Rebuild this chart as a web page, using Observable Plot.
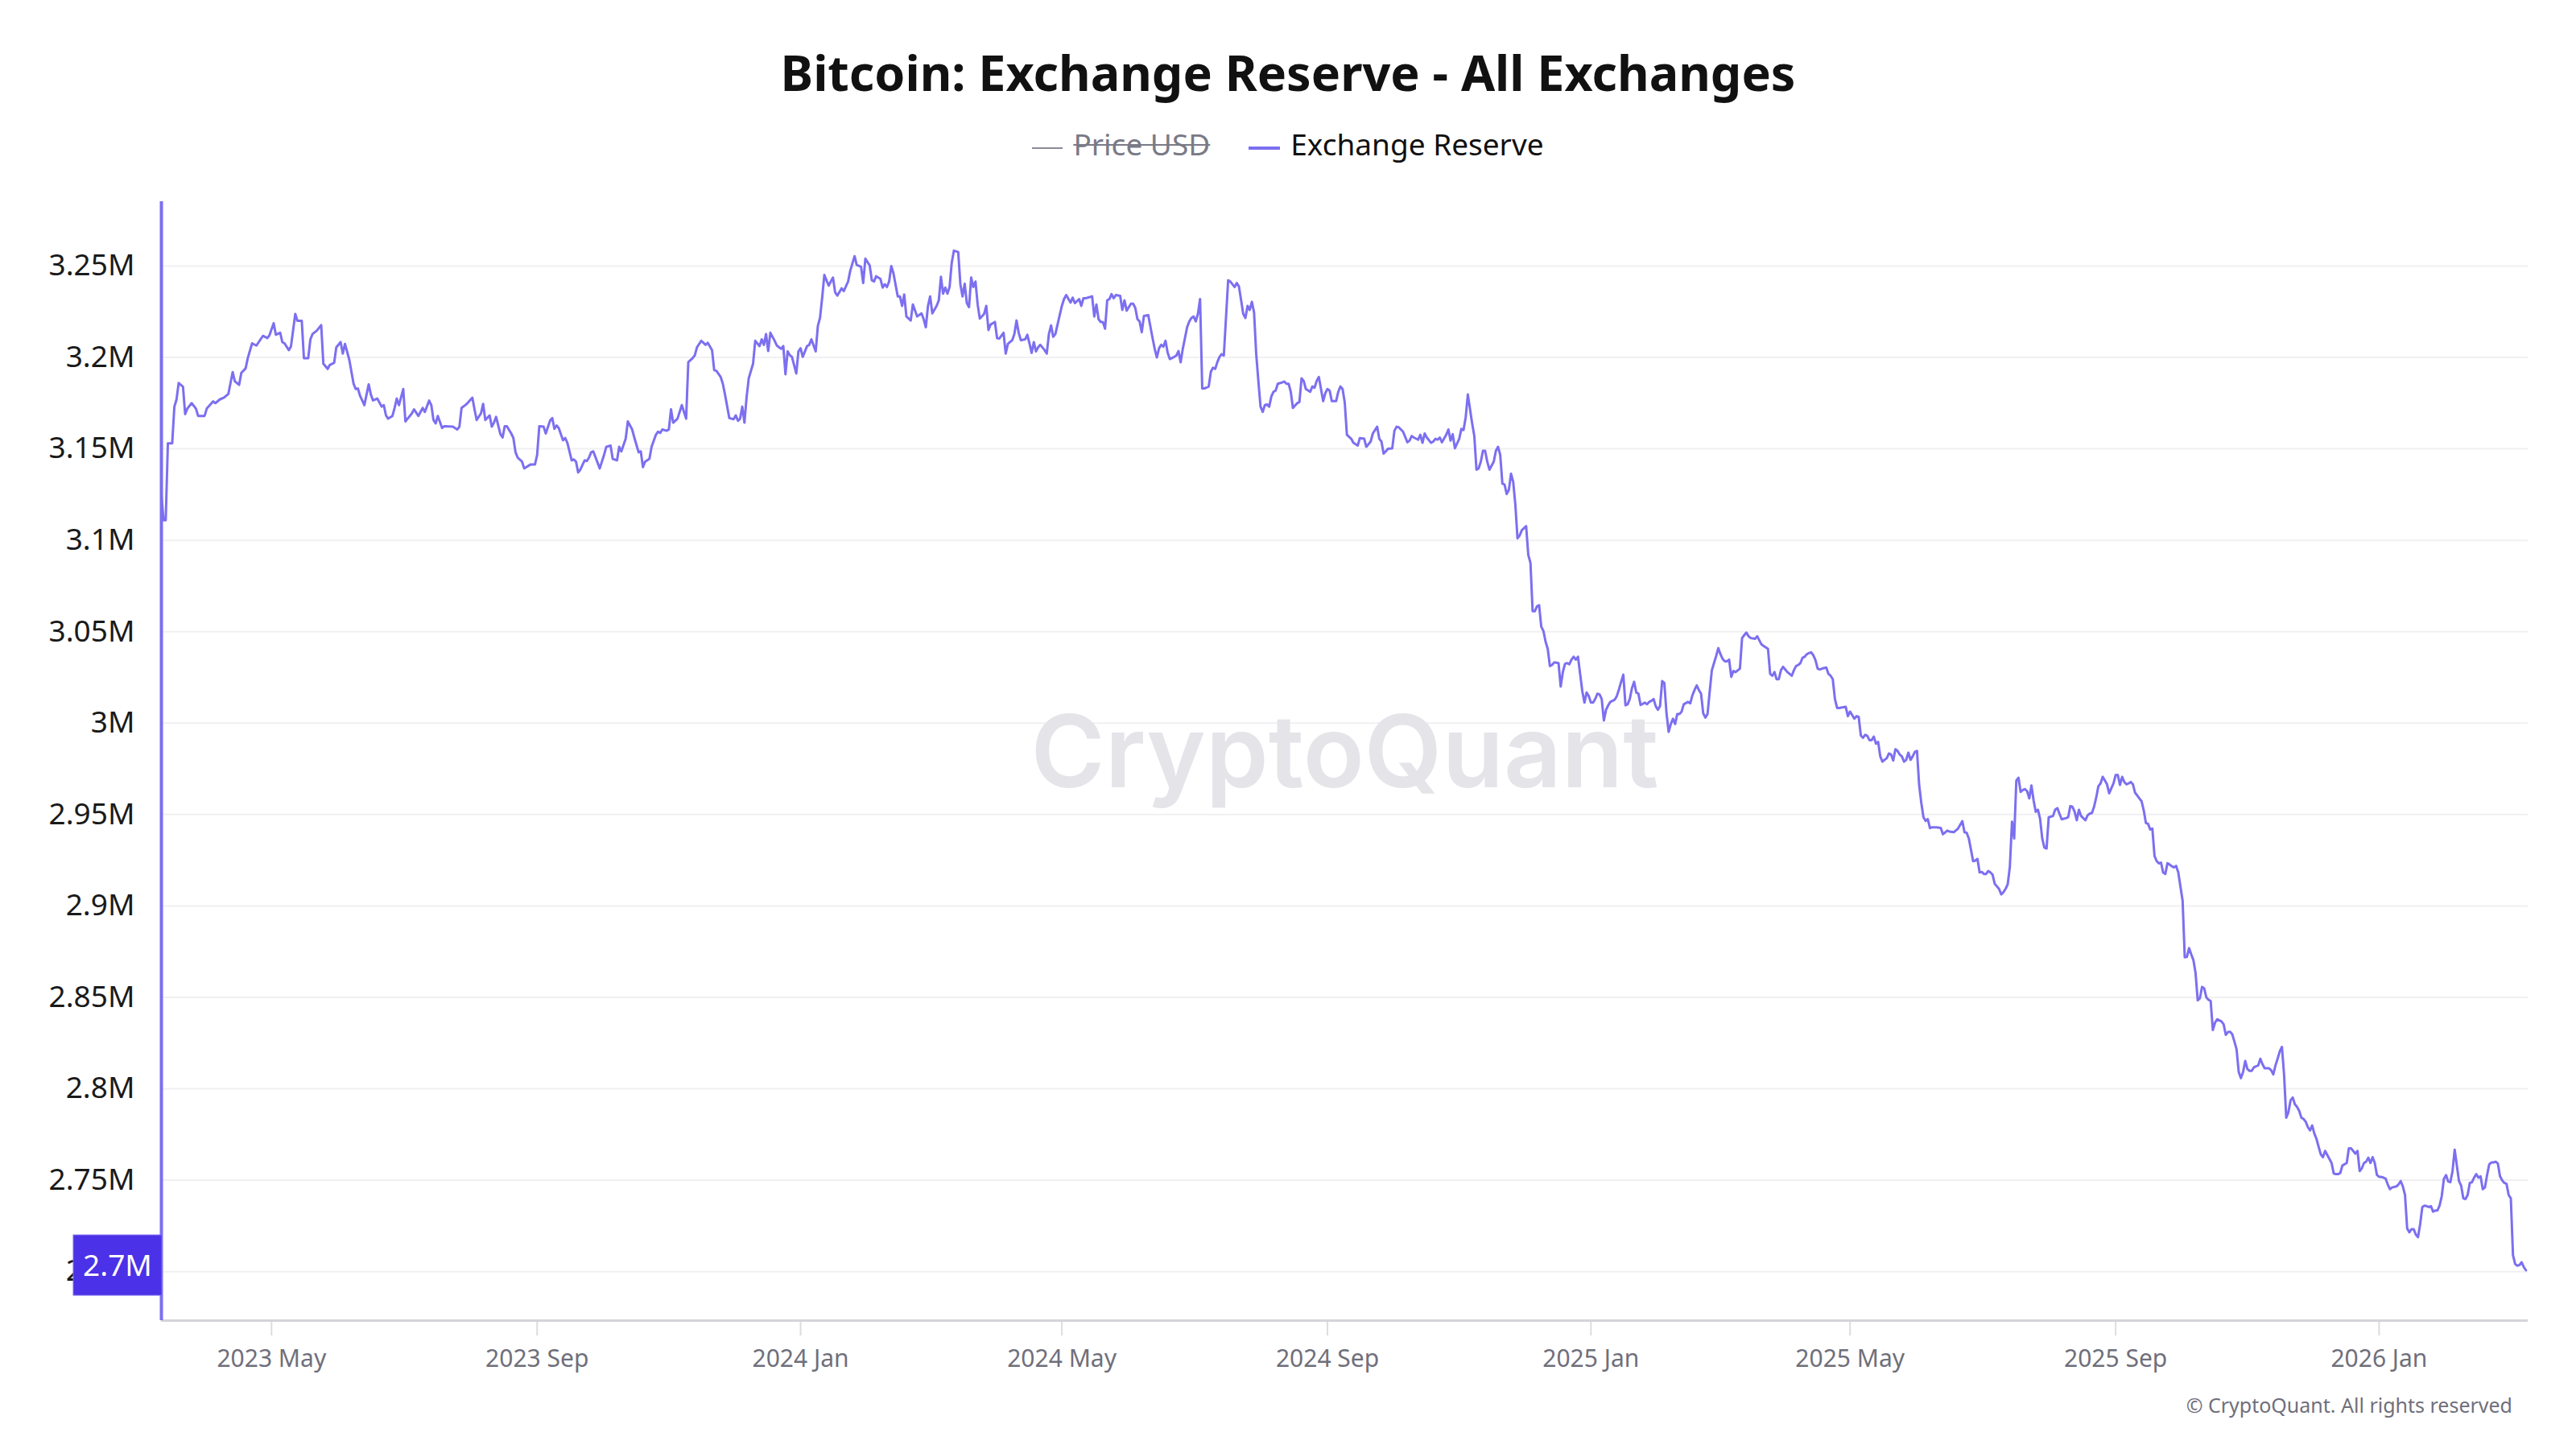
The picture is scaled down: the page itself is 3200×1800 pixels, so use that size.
<!DOCTYPE html>
<html>
<head>
<meta charset="utf-8">
<script src="https://cdn.jsdelivr.net/npm/d3@7"></script>
<script src="https://cdn.jsdelivr.net/npm/@observablehq/plot@0.6"></script>
<style>
  html, body { margin: 0; padding: 0; background: #fff; }
  #wrap { position: relative; width: 3200px; height: 1800px; font-family: 'Noto Sans', sans-serif; overflow: hidden; }
  #title { position: absolute; left: 0; top: 59px; width: 3200px; text-align: center; font-size: 61px; line-height: 1; font-weight: 700; color: #111; }
  #legend { position: absolute; left: 0; top: 160px; width: 3200px; display: flex; justify-content: center; align-items: center; font-size: 37px; line-height: 1; }
  #legend .sw { display: inline-block; position: relative; top: 5px; margin-right: 13px; }
  #chart { position: absolute; left: 0; top: 230px; width: 3200px; }
  #copy { position: absolute; right: 79px; top: 1733px; font-size: 25px; line-height: 1; color: #6f6f7b; }
</style>
</head>
<body>
<div id="wrap">
  <div id="title"></div>
  <div id="legend"></div>
  <div id="chart"></div>
  <div id="copy"></div>
</div>
<script>
const title = "Bitcoin: Exchange Reserve - All Exchanges";
const legendLabels = ["Price USD", "Exchange Reserve"];
const copyright = "© CryptoQuant. All rights reserved";
const watermark = "CryptoQuant";

const yTicks = [2.7, 2.75, 2.8, 2.85, 2.9, 2.95, 3.0, 3.05, 3.1, 3.15, 3.2, 3.25];
const yTickLabels = ["2.7M", "2.75M", "2.8M", "2.85M", "2.9M", "2.95M", "3M", "3.05M", "3.1M", "3.15M", "3.2M", "3.25M"];
const xTicks = ["2023-05-01", "2023-09-01", "2024-01-01", "2024-05-01", "2024-09-01", "2025-01-01", "2025-05-01", "2025-09-01", "2026-01-01"];
const xTickLabels = ["2023 May", "2023 Sep", "2024 Jan", "2024 May", "2024 Sep", "2025 Jan", "2025 May", "2025 Sep", "2026 Jan"];

// Exchange reserve (millions of BTC)
const dates = [
"2023-03-11","2023-03-12","2023-03-13","2023-03-14","2023-03-16","2023-03-17","2023-03-18","2023-03-19","2023-03-21","2023-03-22","2023-03-23","2023-03-25","2023-03-27","2023-03-28","2023-03-31",
"2023-04-01","2023-04-04","2023-04-05","2023-04-07","2023-04-09","2023-04-11","2023-04-13","2023-04-14","2023-04-16","2023-04-17","2023-04-19","2023-04-20","2023-04-22","2023-04-24","2023-04-27","2023-04-29","2023-04-30",
"2023-05-02","2023-05-03","2023-05-05","2023-05-06","2023-05-07","2023-05-09","2023-05-10","2023-05-12","2023-05-13","2023-05-15","2023-05-16","2023-05-18","2023-05-19","2023-05-20","2023-05-22","2023-05-24","2023-05-25","2023-05-27","2023-05-28","2023-05-30","2023-05-31",
"2023-06-02","2023-06-03","2023-06-04","2023-06-06","2023-06-08","2023-06-09","2023-06-10","2023-06-11","2023-06-13","2023-06-14","2023-06-15","2023-06-16","2023-06-17","2023-06-19","2023-06-21","2023-06-22","2023-06-23","2023-06-24","2023-06-26","2023-06-27","2023-06-28","2023-06-29",
"2023-07-01","2023-07-02","2023-07-03","2023-07-05","2023-07-06","2023-07-08","2023-07-10","2023-07-11","2023-07-13","2023-07-14","2023-07-15","2023-07-16","2023-07-17","2023-07-19","2023-07-20","2023-07-24","2023-07-26","2023-07-27","2023-07-28","2023-07-30","2023-07-31",
"2023-08-02","2023-08-03","2023-08-04","2023-08-06","2023-08-07","2023-08-08","2023-08-10","2023-08-11","2023-08-12","2023-08-13","2023-08-15","2023-08-16","2023-08-17","2023-08-18","2023-08-20","2023-08-21","2023-08-22","2023-08-23","2023-08-25","2023-08-26","2023-08-27","2023-08-29","2023-08-31",
"2023-09-01","2023-09-02","2023-09-04","2023-09-05","2023-09-07","2023-09-08","2023-09-09","2023-09-10","2023-09-11","2023-09-13","2023-09-14","2023-09-15","2023-09-17","2023-09-18","2023-09-19","2023-09-20","2023-09-21","2023-09-23","2023-09-24","2023-09-25","2023-09-26","2023-09-27","2023-09-30",
"2023-10-02","2023-10-03","2023-10-05","2023-10-06","2023-10-08","2023-10-09","2023-10-10","2023-10-12","2023-10-13","2023-10-15","2023-10-16","2023-10-18","2023-10-19","2023-10-20","2023-10-21","2023-10-23","2023-10-24","2023-10-26","2023-10-27","2023-10-28","2023-10-29","2023-10-31",
"2023-11-01","2023-11-02","2023-11-03","2023-11-05","2023-11-07","2023-11-09","2023-11-10","2023-11-12","2023-11-13","2023-11-14","2023-11-16","2023-11-18","2023-11-19","2023-11-21","2023-11-22","2023-11-23","2023-11-25","2023-11-26","2023-11-27","2023-11-29",
"2023-12-01","2023-12-02","2023-12-03","2023-12-04","2023-12-05","2023-12-06","2023-12-07","2023-12-08","2023-12-10","2023-12-11","2023-12-13","2023-12-14","2023-12-15","2023-12-16","2023-12-17","2023-12-18","2023-12-20","2023-12-21","2023-12-23","2023-12-24","2023-12-25","2023-12-26","2023-12-27","2023-12-28","2023-12-30","2023-12-31",
"2024-01-01","2024-01-02","2024-01-04","2024-01-05","2024-01-06","2024-01-08","2024-01-09","2024-01-10","2024-01-11","2024-01-12","2024-01-14","2024-01-16","2024-01-17","2024-01-18","2024-01-20","2024-01-21","2024-01-23","2024-01-24","2024-01-26","2024-01-27","2024-01-29","2024-01-30","2024-01-31",
"2024-02-02","2024-02-03","2024-02-04","2024-02-05","2024-02-07","2024-02-08","2024-02-09","2024-02-10","2024-02-11","2024-02-12","2024-02-13","2024-02-15","2024-02-16","2024-02-17","2024-02-18","2024-02-19","2024-02-21","2024-02-22","2024-02-24","2024-02-26","2024-02-27","2024-02-28","2024-02-29",
"2024-03-01","2024-03-02","2024-03-04","2024-03-05","2024-03-06","2024-03-07","2024-03-08","2024-03-09","2024-03-10","2024-03-11","2024-03-12","2024-03-14","2024-03-15","2024-03-16","2024-03-17","2024-03-18","2024-03-19","2024-03-20","2024-03-21","2024-03-22","2024-03-23","2024-03-24","2024-03-26","2024-03-27","2024-03-28","2024-03-29","2024-03-31",
"2024-04-01","2024-04-02","2024-04-04","2024-04-05","2024-04-06","2024-04-08","2024-04-09","2024-04-10","2024-04-11","2024-04-12","2024-04-14","2024-04-15","2024-04-16","2024-04-17","2024-04-18","2024-04-19","2024-04-20","2024-04-21","2024-04-23","2024-04-24","2024-04-25","2024-04-26","2024-04-27","2024-04-28","2024-04-29",
"2024-05-01","2024-05-02","2024-05-03","2024-05-05","2024-05-06","2024-05-07","2024-05-09","2024-05-10","2024-05-11","2024-05-12","2024-05-13","2024-05-15","2024-05-16","2024-05-17","2024-05-18","2024-05-19","2024-05-20","2024-05-21","2024-05-22","2024-05-23","2024-05-24","2024-05-25","2024-05-26","2024-05-28","2024-05-29","2024-05-30","2024-05-31",
"2024-06-02","2024-06-03","2024-06-04","2024-06-05","2024-06-06","2024-06-07","2024-06-08","2024-06-10","2024-06-12","2024-06-13","2024-06-14","2024-06-15","2024-06-16","2024-06-17","2024-06-18","2024-06-19","2024-06-20","2024-06-22","2024-06-23","2024-06-24","2024-06-25","2024-06-26","2024-06-28","2024-06-29","2024-06-30",
"2024-07-01","2024-07-02","2024-07-03","2024-07-04","2024-07-05","2024-07-06","2024-07-08","2024-07-09","2024-07-10","2024-07-11","2024-07-12","2024-07-13","2024-07-14","2024-07-15","2024-07-17","2024-07-18","2024-07-19","2024-07-20","2024-07-21","2024-07-22","2024-07-24","2024-07-25","2024-07-26","2024-07-27","2024-07-28","2024-07-29","2024-07-30","2024-07-31",
"2024-08-01","2024-08-02","2024-08-03","2024-08-04","2024-08-05","2024-08-06","2024-08-07","2024-08-08","2024-08-09","2024-08-11","2024-08-12","2024-08-13","2024-08-14","2024-08-15","2024-08-16","2024-08-18","2024-08-19","2024-08-20","2024-08-21","2024-08-22","2024-08-24","2024-08-25","2024-08-26","2024-08-27","2024-08-28","2024-08-30","2024-08-31",
"2024-09-01","2024-09-02","2024-09-03","2024-09-05","2024-09-06","2024-09-07","2024-09-08","2024-09-09","2024-09-10","2024-09-12","2024-09-13","2024-09-15","2024-09-16","2024-09-18","2024-09-19","2024-09-21","2024-09-22","2024-09-24","2024-09-25","2024-09-26","2024-09-27","2024-09-28","2024-09-29",
"2024-10-01","2024-10-02","2024-10-03","2024-10-04","2024-10-06","2024-10-07","2024-10-08","2024-10-09","2024-10-10","2024-10-11","2024-10-13","2024-10-14","2024-10-15","2024-10-16","2024-10-17","2024-10-19","2024-10-20","2024-10-21","2024-10-22","2024-10-23","2024-10-24","2024-10-26","2024-10-27","2024-10-28","2024-10-29","2024-10-30",
"2024-11-01","2024-11-02","2024-11-03","2024-11-04","2024-11-05","2024-11-07","2024-11-08","2024-11-09","2024-11-10","2024-11-11","2024-11-12","2024-11-13","2024-11-14","2024-11-15","2024-11-17","2024-11-18","2024-11-19","2024-11-20","2024-11-21","2024-11-22","2024-11-23","2024-11-24","2024-11-25","2024-11-26","2024-11-27","2024-11-28","2024-11-29","2024-11-30",
"2024-12-02","2024-12-03","2024-12-04","2024-12-05","2024-12-06","2024-12-07","2024-12-08","2024-12-09","2024-12-10","2024-12-11","2024-12-12","2024-12-13","2024-12-14","2024-12-15","2024-12-17","2024-12-18","2024-12-19","2024-12-20","2024-12-21","2024-12-22","2024-12-23","2024-12-24","2024-12-25","2024-12-26","2024-12-27","2024-12-28","2024-12-29","2024-12-30","2024-12-31",
"2025-01-01","2025-01-02","2025-01-03","2025-01-04","2025-01-05","2025-01-06","2025-01-07","2025-01-08","2025-01-09","2025-01-10","2025-01-11","2025-01-12","2025-01-13","2025-01-14","2025-01-15","2025-01-16","2025-01-17","2025-01-18","2025-01-19","2025-01-20","2025-01-21","2025-01-22","2025-01-23","2025-01-24","2025-01-26","2025-01-27","2025-01-28","2025-01-29","2025-01-30","2025-01-31",
"2025-02-01","2025-02-02","2025-02-03","2025-02-04","2025-02-05","2025-02-06","2025-02-07","2025-02-08","2025-02-09","2025-02-10","2025-02-11","2025-02-12","2025-02-13","2025-02-15","2025-02-16","2025-02-17","2025-02-18","2025-02-19","2025-02-20","2025-02-21","2025-02-22","2025-02-23","2025-02-24","2025-02-25","2025-02-26","2025-02-27","2025-02-28",
"2025-03-01","2025-03-02","2025-03-03","2025-03-04","2025-03-05","2025-03-06","2025-03-07","2025-03-08","2025-03-09","2025-03-11","2025-03-12","2025-03-13","2025-03-14","2025-03-15","2025-03-16","2025-03-18","2025-03-19","2025-03-21","2025-03-22","2025-03-24","2025-03-25","2025-03-26","2025-03-27","2025-03-28","2025-03-29","2025-03-30","2025-03-31",
"2025-04-01","2025-04-02","2025-04-03","2025-04-04","2025-04-05","2025-04-06","2025-04-07","2025-04-08","2025-04-09","2025-04-10","2025-04-11","2025-04-12","2025-04-13","2025-04-14","2025-04-15","2025-04-16","2025-04-17","2025-04-18","2025-04-20","2025-04-21","2025-04-22","2025-04-23","2025-04-24","2025-04-25","2025-04-26","2025-04-28","2025-04-29","2025-04-30",
"2025-05-01","2025-05-02","2025-05-03","2025-05-04","2025-05-05","2025-05-06","2025-05-07","2025-05-08","2025-05-09","2025-05-10","2025-05-11","2025-05-12","2025-05-13","2025-05-14","2025-05-15","2025-05-16","2025-05-17","2025-05-18","2025-05-19","2025-05-20","2025-05-21","2025-05-22","2025-05-23","2025-05-24","2025-05-25","2025-05-26","2025-05-27","2025-05-28","2025-05-29","2025-05-30","2025-05-31",
"2025-06-01","2025-06-02","2025-06-03","2025-06-04","2025-06-05","2025-06-06","2025-06-07","2025-06-08","2025-06-10","2025-06-12","2025-06-13","2025-06-15","2025-06-16","2025-06-18","2025-06-20","2025-06-22","2025-06-23","2025-06-24","2025-06-25","2025-06-26","2025-06-27","2025-06-28","2025-06-29","2025-06-30",
"2025-07-01","2025-07-02","2025-07-03","2025-07-04","2025-07-05","2025-07-06","2025-07-07","2025-07-09","2025-07-10","2025-07-11","2025-07-12","2025-07-13","2025-07-14","2025-07-15","2025-07-16","2025-07-17","2025-07-18","2025-07-19","2025-07-20","2025-07-21","2025-07-22","2025-07-23","2025-07-24","2025-07-25","2025-07-26","2025-07-27","2025-07-28","2025-07-29","2025-07-30","2025-07-31",
"2025-08-01","2025-08-03","2025-08-04","2025-08-05","2025-08-06","2025-08-07","2025-08-08","2025-08-09","2025-08-10","2025-08-11","2025-08-12","2025-08-13","2025-08-14","2025-08-15","2025-08-16","2025-08-17","2025-08-18","2025-08-19","2025-08-20","2025-08-21","2025-08-22","2025-08-23","2025-08-24","2025-08-25","2025-08-26","2025-08-27","2025-08-28","2025-08-29","2025-08-31",
"2025-09-01","2025-09-02","2025-09-03","2025-09-04","2025-09-05","2025-09-06","2025-09-07","2025-09-08","2025-09-09","2025-09-10","2025-09-11","2025-09-12","2025-09-13","2025-09-14","2025-09-15","2025-09-16","2025-09-17","2025-09-18","2025-09-19","2025-09-20","2025-09-21","2025-09-22","2025-09-23","2025-09-24","2025-09-25","2025-09-26","2025-09-27","2025-09-28","2025-09-29","2025-09-30",
"2025-10-02","2025-10-03","2025-10-04","2025-10-05","2025-10-06","2025-10-07","2025-10-08","2025-10-09","2025-10-10","2025-10-11","2025-10-12","2025-10-13","2025-10-14","2025-10-15","2025-10-16","2025-10-17","2025-10-18","2025-10-20","2025-10-21","2025-10-22","2025-10-23","2025-10-24","2025-10-25","2025-10-26","2025-10-27","2025-10-28","2025-10-29","2025-10-30","2025-10-31",
"2025-11-01","2025-11-02","2025-11-03","2025-11-04","2025-11-05","2025-11-06","2025-11-07","2025-11-08","2025-11-09","2025-11-10","2025-11-11","2025-11-12","2025-11-13","2025-11-14","2025-11-15","2025-11-16","2025-11-17","2025-11-18","2025-11-19","2025-11-20","2025-11-21","2025-11-22","2025-11-23","2025-11-24","2025-11-25","2025-11-26","2025-11-27","2025-11-28","2025-11-29","2025-11-30",
"2025-12-01","2025-12-02","2025-12-03","2025-12-04","2025-12-05","2025-12-06","2025-12-07","2025-12-08","2025-12-09","2025-12-10","2025-12-11","2025-12-12","2025-12-13","2025-12-14","2025-12-15","2025-12-16","2025-12-17","2025-12-18","2025-12-19","2025-12-20","2025-12-21","2025-12-22","2025-12-23","2025-12-24","2025-12-25","2025-12-26","2025-12-27","2025-12-28","2025-12-29","2025-12-30","2025-12-31",
"2026-01-01","2026-01-02","2026-01-03","2026-01-04","2026-01-05","2026-01-06","2026-01-07","2026-01-09","2026-01-10","2026-01-11","2026-01-12","2026-01-13","2026-01-14","2026-01-15","2026-01-16","2026-01-17","2026-01-18","2026-01-19","2026-01-20","2026-01-21","2026-01-22","2026-01-23","2026-01-24","2026-01-25","2026-01-26","2026-01-27","2026-01-28","2026-01-29","2026-01-30","2026-01-31",
"2026-02-01","2026-02-02","2026-02-03","2026-02-04","2026-02-05","2026-02-06","2026-02-07","2026-02-08","2026-02-09","2026-02-10","2026-02-11","2026-02-12","2026-02-13","2026-02-14","2026-02-15","2026-02-16","2026-02-17","2026-02-18","2026-02-19","2026-02-20","2026-02-21","2026-02-22","2026-02-23","2026-02-24","2026-02-25","2026-02-26","2026-02-27","2026-02-28",
"2026-03-01","2026-03-02","2026-03-03","2026-03-04","2026-03-05","2026-03-06","2026-03-07","2026-03-08","2026-03-09","2026-03-10"
];
const reserve = [
3.125,3.111,3.111,3.153,3.153,3.173,3.177,3.186,3.184,3.169,3.172,3.175,3.172,3.168,3.168,
3.172,3.176,3.175,3.177,3.178,3.180,3.192,3.187,3.185,3.1915,3.194,3.1996,3.2077,3.2065,3.2118,3.2106,3.212,
3.2187,3.2124,3.2135,3.2084,3.2077,3.204,3.206,3.2238,3.220,3.220,3.1996,3.1996,3.2099,3.2128,3.2147,3.2177,3.1966,3.1937,3.1959,3.1971,3.2055,
3.2084,3.2021,3.2074,3.1988,3.1856,3.1827,3.183,3.179,3.1739,3.1797,3.1853,3.1797,3.1765,3.1775,3.1731,3.1739,3.1683,3.1665,3.168,3.1724,3.1775,3.1739,
3.1827,3.165,3.1665,3.1694,3.1716,3.168,3.1724,3.1702,3.1764,3.1739,3.1658,3.1639,3.168,3.1614,3.1624,3.1621,3.1606,3.1621,3.1724,3.1742,3.1753,
3.178,3.1716,3.1658,3.1694,3.1746,3.1658,3.1683,3.1621,3.1643,3.1675,3.158,3.1562,3.1624,3.1624,3.1584,3.1559,3.1481,3.1452,3.143,3.1393,3.14,3.1415,3.1415,
3.1467,3.1624,3.1621,3.1584,3.1655,3.1668,3.1609,3.1628,3.1614,3.1547,3.1559,3.1533,3.1437,3.1442,3.143,3.1371,3.1386,3.1437,3.1433,3.1452,3.1481,3.1486,3.1393,
3.1467,3.1511,3.1518,3.1445,3.1437,3.1511,3.1486,3.1555,3.165,3.1606,3.1562,3.1481,3.1486,3.14,3.143,3.1445,3.1511,3.1577,3.1594,3.1587,3.1606,3.1599,
3.1606,3.1716,3.1643,3.1665,3.1739,3.1665,3.1974,3.1996,3.2011,3.2055,3.2091,3.2069,3.208,3.204,3.193,3.1927,3.1893,3.1856,3.1797,3.1668,
3.1662,3.1683,3.1653,3.1665,3.1731,3.1643,3.1783,3.1886,3.1966,3.2091,3.2062,3.2099,3.2069,3.2128,3.2035,3.2135,3.2091,3.2065,3.2047,3.2062,3.1908,3.2033,3.2013,3.2003,3.1912,3.2033,
3.205,3.2003,3.2062,3.2069,3.2099,3.2033,3.2172,3.2216,3.2327,3.2451,3.2393,3.2437,3.2356,3.2338,3.2378,3.2363,3.2415,3.2474,3.2554,3.2506,3.2496,3.2407,3.254,
3.2503,3.2422,3.2415,3.2444,3.2429,3.2382,3.24,3.2385,3.2415,3.25,3.246,3.2334,3.2334,3.2282,3.2344,3.2224,3.2202,3.229,3.2224,3.2241,3.2209,3.2165,3.2282,
3.2334,3.2241,3.2282,3.2312,3.2441,3.2349,3.2382,3.2349,3.2385,3.2518,3.2584,3.2576,3.24,3.2334,3.2403,3.2297,3.2275,3.2437,3.2385,3.2415,3.229,3.2212,3.2238,3.2282,3.215,3.218,3.2194,
3.2106,3.2103,3.2135,3.2021,3.2074,3.2094,3.2128,3.2202,3.2135,3.2094,3.2099,3.2124,3.2077,3.2025,3.2084,3.2033,3.2055,3.2069,3.204,3.2021,3.2128,3.2175,3.2113,3.2128,3.218,
3.2282,3.2319,3.2341,3.23,3.2327,3.2297,3.2319,3.2282,3.2324,3.2324,3.2327,3.2334,3.2224,3.229,3.2209,3.2194,3.2194,3.2157,3.2312,3.2319,3.2346,3.2324,3.2341,3.2337,3.226,3.2312,3.2256,
3.2294,3.2294,3.2271,3.2209,3.2197,3.2138,3.2227,3.2231,3.2106,3.2047,3.2,3.205,3.2069,3.2059,3.2091,3.2025,3.1991,3.2003,3.201,3.2035,3.1974,3.2047,3.2165,3.2197,3.2216,
3.2224,3.2197,3.2238,3.2319,3.183,3.183,3.1841,3.1922,3.1944,3.1937,3.1974,3.2003,3.2018,3.201,3.2422,3.2415,3.24,3.2385,3.2407,3.2388,3.2238,3.2216,3.2282,3.226,3.2304,3.2246,3.2018,3.1871,
3.1731,3.1702,3.1739,3.1743,3.1731,3.1786,3.1812,3.1819,3.1856,3.1863,3.1868,3.1856,3.1856,3.1812,3.1724,3.175,3.1756,3.1886,3.1871,3.1827,3.1812,3.1841,3.1834,3.1871,3.1893,3.1761,3.1805,
3.1827,3.1819,3.1761,3.1761,3.1812,3.1841,3.1827,3.1753,3.1577,3.1555,3.1533,3.1518,3.1559,3.1555,3.1511,3.154,3.1584,3.1621,3.1555,3.154,3.1474,3.1486,3.15,
3.1503,3.1599,3.1621,3.1618,3.1594,3.1565,3.1536,3.1545,3.157,3.1562,3.155,3.1577,3.1533,3.1584,3.1562,3.1533,3.154,3.1555,3.155,3.1562,3.1536,3.1577,3.1606,3.1545,3.158,3.1503,
3.1555,3.1609,3.1603,3.1672,3.1797,3.1639,3.157,3.1386,3.1393,3.143,3.1489,3.1489,3.143,3.1386,3.143,3.1489,3.1511,3.1467,3.1309,3.1305,3.1253,3.1276,3.1364,3.132,3.1195,3.1011,3.1026,3.1055,
3.1077,3.092,3.0877,3.0612,3.0612,3.0638,3.0645,3.0528,3.0504,3.0446,3.0406,3.0312,3.0318,3.0332,3.0328,3.02,3.0279,3.0324,3.0328,3.0322,3.0347,3.0363,3.0347,3.0363,3.0269,3.0175,3.0112,3.0167,3.0148,
3.0112,3.0112,3.0132,3.0161,3.0157,3.0132,3.0014,3.0073,3.0097,3.0116,3.0122,3.0128,3.0148,3.0185,3.0226,3.0265,3.0097,3.0103,3.0132,3.0191,3.0226,3.0167,3.0161,3.0099,3.0112,3.0103,3.0116,3.0122,3.0132,3.0093,
3.0073,3.0093,3.023,3.022,3.0054,2.9952,2.9995,3.0024,2.9995,3.005,3.005,3.0063,3.0103,3.0116,3.0108,3.0152,3.0181,3.0206,3.0181,3.0161,3.0054,3.003,3.005,3.0171,3.0289,3.0328,3.0367,
3.041,3.0377,3.0351,3.0338,3.0338,3.0347,3.0253,3.0285,3.0279,3.0298,3.0465,3.0481,3.0495,3.0475,3.0465,3.0461,3.0475,3.043,3.0422,3.0406,3.0269,3.0259,3.0279,3.024,3.024,3.0289,3.0308,
3.0293,3.0279,3.0269,3.0259,3.0289,3.0312,3.0318,3.0328,3.0357,3.0363,3.0377,3.0383,3.0387,3.0371,3.0344,3.0298,3.0293,3.0298,3.0304,3.0269,3.0259,3.024,3.0132,3.0083,3.0083,3.0087,3.0089,3.0038,
3.0063,3.0044,3.0024,3.0038,3.0034,2.9932,2.992,2.9936,2.993,2.9907,2.9907,2.9926,2.9887,2.9897,2.9818,2.9789,2.9799,2.9808,2.9834,2.9828,2.9795,2.9857,2.9848,2.9828,2.9818,2.9789,2.9799,2.9838,2.9799,2.9818,2.9842,
2.9848,2.9662,2.9563,2.9485,2.9465,2.9475,2.9426,2.943,2.943,2.9427,2.9392,2.9412,2.9407,2.9403,2.9423,2.9464,2.9403,2.94,2.9369,2.9307,2.9245,2.9248,2.9257,2.9183,
2.9186,2.9175,2.9175,2.9191,2.9183,2.9171,2.9121,2.9093,2.9063,2.9075,2.9093,2.9118,2.9214,2.9461,2.9369,2.9686,2.9701,2.9624,2.9634,2.9639,2.9628,2.9588,2.9659,2.9577,2.9515,2.9526,2.9477,2.9369,2.9319,2.9314,
2.9485,2.9492,2.9527,2.9535,2.9504,2.9474,2.9477,2.948,2.9485,2.9546,2.9542,2.9515,2.9469,2.9526,2.9492,2.948,2.9469,2.9495,2.9505,2.9508,2.9542,2.9593,2.9655,2.967,2.9706,2.9686,2.9665,2.9616,2.967,
2.9716,2.9716,2.9662,2.9706,2.9678,2.9665,2.967,2.9678,2.9665,2.9619,2.9604,2.9588,2.9573,2.9523,2.9454,2.9449,2.9418,2.9423,2.9273,2.9245,2.9233,2.9237,2.9183,2.9175,2.9234,2.9226,2.9217,2.9211,2.9219,2.9183,
2.9029,2.8719,2.8722,2.8769,2.8735,2.8704,2.8634,2.8484,2.8495,2.8557,2.8549,2.85,2.8487,2.848,2.8321,2.8361,2.838,2.8368,2.8353,2.8295,2.831,2.8312,2.8298,2.8258,2.8215,2.8091,2.8058,2.8091,2.8152,
2.8108,2.8098,2.8098,2.8117,2.8123,2.8127,2.8164,2.8134,2.8112,2.8112,2.8112,2.8102,2.8079,2.8127,2.8164,2.8204,2.8229,2.8076,2.7842,2.7872,2.7937,2.7952,2.7915,2.7901,2.7879,2.7842,2.7835,2.782,2.7791,2.7772,
2.7799,2.7755,2.7726,2.7682,2.7641,2.7626,2.766,2.7638,2.7616,2.7594,2.7536,2.7533,2.7533,2.7539,2.758,2.7587,2.7594,2.7674,2.7674,2.766,2.7645,2.766,2.755,2.7565,2.7594,2.7601,2.7623,2.7594,2.7626,2.7594,2.7528,
2.7518,2.7518,2.7514,2.7509,2.7477,2.7451,2.746,2.7466,2.7477,2.7495,2.7466,2.7419,2.7236,2.7215,2.7232,2.7232,2.7203,2.7188,2.7258,2.7353,2.7361,2.7358,2.7353,2.7358,2.7328,2.7334,2.7334,2.7361,2.7412,2.7507,
2.7528,2.7493,2.7489,2.755,2.7667,2.758,2.7495,2.747,2.7401,2.7397,2.7419,2.7485,2.7489,2.7514,2.7533,2.7514,2.7521,2.7451,2.746,2.7528,2.7587,2.7597,2.7597,2.7601,2.7591,2.7521,2.7499,2.7485,
2.748,2.7419,2.7401,2.709,2.7042,2.7032,2.7036,2.7051,2.7025,2.7007
];

const lineColor = "#7c6ff0";
const priceColor = "#8a8a94";
const boxColor = "#4b31e7";

if (dates.length !== reserve.length) {
  document.body.insertAdjacentHTML("afterbegin", `<pre style="font-size:40px;color:red">length mismatch: ${dates.length} vs ${reserve.length}</pre>`);
  throw new Error("length mismatch " + dates.length + " " + reserve.length);
}

document.getElementById("title").textContent = title;
document.getElementById("copy").textContent = copyright;
const legend = document.getElementById("legend");
legend.innerHTML = `
  <span class="sw" style="width:38px;height:2px;background:${priceColor}"></span>
  <span style="color:#7a7a86;text-decoration:line-through;text-decoration-thickness:2px;margin-right:48px">${legendLabels[0]}</span>
  <span class="sw" style="width:39px;height:4px;background:${lineColor}"></span>
  <span style="color:#111">${legendLabels[1]}</span>`;

const rows = dates.map((d, i) => ({date: new Date(d + "T00:00:00Z"), value: reserve[i]}));
const xDomain = [new Date("2023-03-11T00:00:00Z"), new Date("2026-03-11T00:00:00Z")];
const yDomain = [2.6732, 3.2852];
const xTickDates = xTicks.map(d => new Date(d + "T00:00:00Z"));
const xLabelOf = new Map(xTickDates.map((d, i) => [+d, xTickLabels[i]]));
const yLabelOf = new Map(yTicks.map((t, i) => [t, yTickLabels[i]]));
const lastV = reserve[reserve.length - 1];

// Last-value badge drawn over the y axis, positioned with the plot's own y scale
function lastValueBadge(index, scales, values, dimensions) {
  const cy = scales.y(lastV) - 6;
  const left = dimensions.marginLeft - 109;
  const g = d3.create("svg:g");
  g.append("rect").attr("x", left).attr("y", cy - 37.5).attr("width", 110).attr("height", 75)
    .attr("fill", boxColor).attr("stroke", lineColor).attr("stroke-width", 1);
  g.append("text").attr("x", left + 55).attr("y", cy).attr("dy", "0.36em")
    .attr("text-anchor", "middle")
    .attr("fill", "#ffffff").attr("stroke", "none")
    .attr("font-size", 37).attr("font-family", "'Noto Sans', sans-serif")
    .text(d3.format(".3~")(lastV) + "M");
  return g.node();
}

const chart = Plot.plot({
  width: 3200,
  height: 1570,
  marginTop: 20,
  marginRight: 60,
  marginBottom: 160,
  marginLeft: 200,
  style: {fontFamily: "'Noto Sans', sans-serif", background: "#fff", maxWidth: "none", overflow: "visible"},
  x: {type: "utc", domain: xDomain, label: null},
  y: {type: "linear", domain: yDomain, label: null},
  marks: [
    Plot.gridY({ticks: yTicks, stroke: "#f0f0f3", strokeOpacity: 1, strokeWidth: 2}),
    Plot.text([watermark], {frameAnchor: "middle", text: d => d, fontSize: 125, fontFamily: "Inter", fontWeight: 600, fill: "#e4e4e9", dy: -8}),
    Plot.axisY({ticks: yTicks, tickSize: 0, tickPadding: 33, fontSize: 37, fill: "#1a1a1a", tickFormat: d => yLabelOf.get(d), label: null}),
    Plot.axisX({ticks: xTickDates, tickSize: 19, tickPadding: 17, fontSize: 30, fill: "#6f6f7b", stroke: "#dcdce1", strokeWidth: 2, tickFormat: d => xLabelOf.get(+d), label: null}),
    Plot.ruleY([yDomain[0]], {stroke: "#d4d4da", strokeWidth: 3}),
    Plot.lineY(rows, {x: "date", y: "value", stroke: lineColor, strokeWidth: 3, strokeLinejoin: "round"}),
    Plot.ruleX([xDomain[0]], {stroke: lineColor, strokeWidth: 4}),
    lastValueBadge
  ]
});
document.getElementById("chart").appendChild(chart);
</script>
</body>
</html>
